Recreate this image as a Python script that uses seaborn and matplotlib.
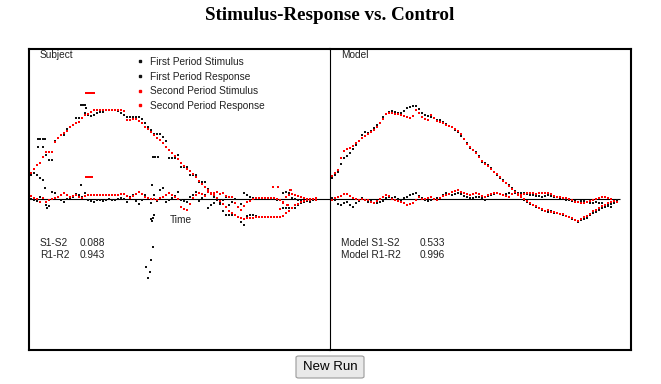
import numpy as np
import pandas as pd
import seaborn as sns
from matplotlib import pyplot as plt
from matplotlib.lines import Line2D
from matplotlib.patches import FancyBboxPatch

sns.set_style("white")
plt.rcParams["font.family"] = ["Liberation Sans", "DejaVu Sans"]

# series names
names = ["First Period Stimulus", "First Period Response",
         "Second Period Stimulus", "Second Period Response"]
colors = {"First Period Stimulus": "#111111", "First Period Response": "#111111",
          "Second Period Stimulus": "#ff0000", "Second Period Response": "#ff0000"}

# ---- subject (one sample per time step) ----
subj_s1 = [24, 26, 24, 21, 19, 44, 39, 39, 58, 61, 64, 64, 70, 72, 74, 81, 81, 81, 86, 84,
           83, 84, 86, 87, 87, 89, 89, 89, 89, 88, 86, 84, 82, 82, 82, 82, 82, 80, 76, 72,
           69, 65, 65, 65, 62, 58, 41, 41, 41, 44, 32, 32, 32, 24, 24, 24, 17, 17, 17, 10,
           6, 2, -1, -5, -12, -16, -16, -16, -16, -18, -23, -26, -17, -16, -16, -17, -18, -18, -18, -18,
           -18, -18, -18, -18, -9, -9, -9, -9, -9, -6, -4, -3, -2, -1, 0, 1]
subj_r1 = [0, -1, -2, 2, 1, -3, -7, 7, 6, 2, -1, -3, 0, 1, 2, 5, 4, 2, 6, -1,
           -2, -3, -1, -1, -2, -1, 0, -1, -1, 0, 1, 0, -3, 2, 4, -2, -5, -1, 4, 1,
           -4, 4, -2, 9, 11, -3, -1, 1, 3, 7, -1, -2, -3, 2, 4, 7, -2, 1, 4, -9,
           -6, -4, -1, -4, -1, 2, -6, -3, 0, -8, -5, 6, 4, 2, 1, 1, 1, 1, 1, 1,
           0, 0, -1, -1, 6, 7, 6, 1, 0, -1, -2, -3, -2, -3, -1, 0]
subj_s2 = [26, 30, 34, 36, 42, 47, 47, 47, 57, 61, 64, 66, 68, 72, 74, 76, 77, 81, 84, 85,
           87, 89, 89, 89, 89, 89, 89, 89, 89, 89, 89, 88, 79, 79, 80, 80, 78, 76, 72, 70,
           67, 64, 61, 59, 56, 52, 49, 46, 43, 40, 36, 33, 30, 28, 25, 22, 18, 15, 12, 9,
           6, 4, 1, -2, -5, -8, -12, -14, -16, -18, -19, -20, -19, -19, -19, -18, -18, -18, -18, -18,
           -18, -18, -18, -18, -17, -14, -12, -9, -6, -5, -3, -2, -1, 0, 0, 1]
subj_r2 = [3, 1, 0, -3, 1, -3, -1, 0, 1, 2, 4, 6, 4, 2, 3, 4, 2, 1, 3, 4,
           4, 4, 4, 4, 4, 4, 4, 4, 4, 4, 5, 5, 3, 1, 3, 5, 7, 5, 2, 1,
           0, 0, -1, 1, 2, 4, 6, 4, 2, 0, -8, -10, -11, -5, 1, 4, 6, 5, 3, 7,
           5, 6, 7, 5, 6, 3, 2, 2, -4, -8, -11, -7, -3, -2, 0, 1, 1, 1, 1, 1,
           1, 1, 0, -1, -3, 2, 4, 5, 4, 3, 2, 1, 0, -1, 0, -1]

# stray subject samples (time step, value)
stray_black_t = [2.3, 3, 4, 4.7, 2.3, 4, 4.7, 5, 5.3, 16.7, 17.3, 18, 18.3, 16.7,
                 40.7, 41.3, 42.3, 40.3, 40.7, 41, 40.3, 40, 40.7, 40, 38.3, 39.7, 39]
stray_black_v = [60, 60, 60, 60, 52, 52, 11, -6, -9, 94, 94, 94, 91, 14,
                 42, 42, 42, -22, -19, -16, 14, -20, -48, -61, -68, -73, -79]
stray_red_t = [18.3, 19, 19.7, 20.3, 21, 18.3, 19, 19.7, 20.3, 80.7, 82.3, 83, 85.5, 86.5, 84]
stray_red_v = [106, 106, 106, 106, 106, 22, 22, 22, 22, 12, 12, -10, -6, 9, -4]

# ---- model ----
model_s1 = [21, 24, 27, 35, 41, 43, 46, 50, 54, 58, 64, 67, 66, 68, 71, 74, 76, 82, 85, 87,
            88, 87, 86, 86, 88, 91, 92, 93, 93, 90, 86, 84, 83, 82, 81, 79, 79, 77, 75, 73,
            72, 69, 67, 63, 60, 56, 51, 49, 47, 43, 37, 36, 34, 31, 27, 24, 21, 19, 16, 14,
            11, 8, 5, 2, -1, -3, -5, -6, -8, -9, -11, -12, -13, -12, -14, -14, -15, -16, -17, -18,
            -20, -21, -23, -21, -20, -19, -16, -14, -13, -11, -9, -8, -6, -5, -3, -1]
model_r1 = [1, -1, -5, -6, -4, -3, -6, -8, -4, -2, 1, -1, -3, -2, -4, -4, -3, -2, 1, 2,
            1, 2, 0, -1, 1, 2, 4, 5, 6, 3, 1, -1, -2, -1, 0, 1, 1, 4, 6, 5,
            4, 5, 6, 5, 3, 2, 1, 1, 2, 2, 1, -1, 3, 4, 5, 6, 5, 4, 5, 6,
            5, 6, 6, 6, 6, 5, 4, 4, 3, 3, 2, 3, 4, 3, 2, 2, 1, 0, -1, -1,
            -2, -2, -3, -2, -2, -3, -4, -4, -3, -4, -4, -6, -7, -8, -4, -1]
model_s2 = [23, 26, 29, 41, 48, 50, 51, 53, 56, 58, 61, 63, 65, 67, 69, 72, 76, 80, 85, 86,
            86, 85, 85, 84, 83, 82, 81, 83, 89, 86, 82, 80, 79, 84, 81, 78, 77, 76, 74, 73,
            72, 70, 68, 65, 60, 55, 52, 49, 46, 42, 38, 35, 33, 30, 27, 25, 22, 18, 16, 13,
            10, 7, 4, 2, 0, -2, -4, -6, -7, -9, -10, -12, -11, -13, -13, -14, -15, -15, -17, -18,
            -19, -21, -22, -20, -18, -17, -15, -12, -11, -9, -7, -6, -4, -3, -2, -3]
model_r2 = [-1, 1, 2, 3, 5, 5, 3, 1, 0, -1, 0, -1, -1, -3, -4, -2, 0, 2, 4, 3,
            0, -1, -2, -3, -4, -6, -5, -4, -1, 2, 0, 0, 1, 2, 0, -1, 1, 3, 4, 5,
            7, 8, 9, 7, 6, 5, 4, 5, 6, 5, 3, 2, 4, 5, 6, 6, 5, 4, 3, 2,
            5, 7, 5, 4, 5, 6, 6, 6, 5, 6, 6, 6, 6, 5, 3, 2, 2, 1, 1, 0,
            -1, -3, -3, -4, -4, -3, -2, -1, 0, 1, 2, 2, 1, 0, -2, -3]

subj_stats = [("S1-S2", "0.088"), ("R1-R2", "0.943")]
model_stats = [("Model S1-S2", "0.533"), ("Model R1-R2", "0.996")]


def long_table(s1, r1, s2, r2):
    parts = []
    for name, vals in zip(names, [s1, r1, s2, r2]):
        parts.append(pd.DataFrame({"t": np.arange(len(vals)), "v": vals, "series": name}))
    return pd.concat(parts, ignore_index=True)


subj = long_table(subj_s1, subj_r1, subj_s2, subj_r2)
subj = pd.concat([subj,
                  pd.DataFrame({"t": stray_black_t, "v": stray_black_v, "series": names[1]}),
                  pd.DataFrame({"t": stray_red_t, "v": stray_red_v, "series": names[3]})],
                 ignore_index=True)
model = long_table(model_s1, model_r1, model_s2, model_r2)

W, H = 661, 384
fig = plt.figure(figsize=(W / 100, H / 100), dpi=100)
axL = fig.add_axes([29 / W, 1 - 350 / H, 301 / W, 301 / H])
axR = fig.add_axes([330 / W, 1 - 350 / H, 301 / W, 301 / H])

for ax, df in [(axL, subj), (axR, model)]:
    sns.scatterplot(data=df, x="t", y="v", hue="series", hue_order=names, palette=colors,
                    marker="s", s=4, linewidth=0, legend=False, ax=ax)
    ax.set_xlim(-0.67, 99.67)
    ax.set_ylim(-151, 150)
    ax.set_xticks([])
    ax.set_yticks([])
    ax.set_xlabel("")
    ax.set_ylabel("")
    ax.set_facecolor("none")
    for sp in ax.spines.values():
        sp.set_color("black")
        sp.set_linewidth(1.5)

# thin divider between the two panels
axL.spines["right"].set_visible(False)
axR.spines["left"].set_linewidth(0.8)
axL.hlines(0, -0.67, 99.67, color="black", lw=0.8, zorder=0)
axR.hlines(0, -0.3, 96, color="black", lw=0.8, zorder=0)

tc = "#222222"
fs = 7.3
fig.text(40 / W, 1 - 55 / H, "Subject", fontsize=fs, color=tc, va="center")
fig.text(341 / W, 1 - 55 / H, "Model", fontsize=fs, color=tc, va="center")
fig.text(170 / W, 1 - 220 / H, "Time", fontsize=fs, color=tc, va="center")
for i, (lab, val) in enumerate(subj_stats):
    fig.text(40 / W, 1 - (243 + 12 * i) / H, lab, fontsize=fs, color=tc, va="center")
    fig.text(80 / W, 1 - (243 + 12 * i) / H, val, fontsize=fs, color=tc, va="center")
for i, (lab, val) in enumerate(model_stats):
    fig.text(341 / W, 1 - (243 + 12 * i) / H, lab, fontsize=fs, color=tc, va="center")
    fig.text(420 / W, 1 - (243 + 12 * i) / H, val, fontsize=fs, color=tc, va="center")

handles = [Line2D([], [], marker="s", markersize=1.6, lw=0, color=colors[n]) for n in names]
axL.legend(handles, names, loc="upper left", bbox_to_anchor=(135 / W, 1 - 57 / H),
           bbox_transform=fig.transFigure, frameon=False, fontsize=fs, handlelength=1.0,
           handletextpad=0.5, borderpad=0, borderaxespad=0, labelspacing=0.46,
           labelcolor=tc)

fig.text(330 / W, 1 - 15 / H, "Stimulus-Response vs. Control", ha="center", va="center",
         fontsize=13.7, fontweight="bold", family="Liberation Serif", color="black")

# button under the panels
btn = FancyBboxPatch((296 / W, 1 - 378 / H), 68 / W, 22 / H,
                     boxstyle="round,pad=0,rounding_size=0.004", transform=fig.transFigure,
                     facecolor="#e9e9e9", edgecolor="#9a9a9a", lw=0.8)
fig.patches.append(btn)
fig.text(330 / W, 1 - 367.5 / H, "New Run", ha="center", va="center", fontsize=9.5,
         color="black")

fig.savefig("out.png", dpi=100)
